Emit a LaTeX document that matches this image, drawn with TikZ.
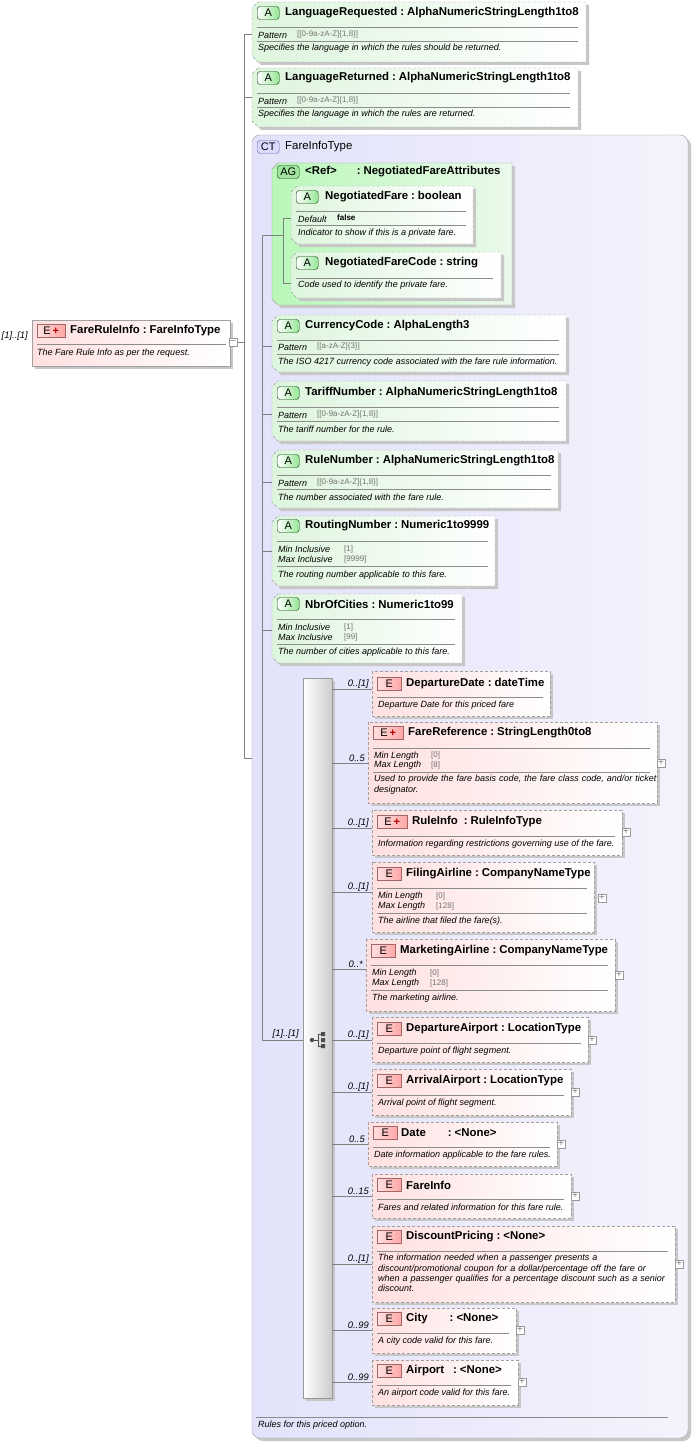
\documentclass[tikz,border=0pt]{standalone}
\usepackage{fontspec}
\setmainfont{Liberation Sans}
\usetikzlibrary{calc}
\definecolor{agr}{HTML}{DDF5DD}
\definecolor{epk}{HTML}{FFE0E0}
\definecolor{ctb}{HTML}{E2E2FA}
\definecolor{bord}{HTML}{A0A0A0}
\newcommand\ft{\fontsize{11.4}{13}\selectfont\bfseries}
\newcommand\fd{\fontsize{9}{10.4}\selectfont\itshape\hyphenpenalty=10000\exhyphenpenalty=10000}
\newcommand\fv{\fontsize{8}{9}\selectfont\color{black!55}}
\newcommand\fm{\fontsize{9.4}{10}\selectfont\itshape}
\newcommand\cl{\hspace{3pt}:\hspace{3pt}}
\tikzset{
 shad/.style={fill=black!22},
 dbox/.style={draw=bord,dashed,dash pattern=on 3pt off 2pt},
 sbox/.style={draw=bord},
 sep/.style={draw=black!45,line width=0.5pt},
 conn/.style={draw=black!50,line width=0.5pt},
 tl/.style={anchor=west,font=\ft,inner sep=0},
 dl/.style={anchor=north west,font=\fd,inner sep=0,align=left,text width=#1},
 dl/.default=300pt,
 rl/.style={anchor=west,font=\fd,inner sep=0},
 vl/.style={anchor=west,font=\fv,inner sep=0},
 ml/.style={anchor=east,font=\fm,inner sep=0},
 pl/.style={draw=black!40,fill=white,minimum size=8pt,inner sep=0,font=\fontsize{10}{10}\selectfont\color{black!50}},
 bfont/.style={font=\fontsize{11}{11}\selectfont},
}
\newcommand\abox[5]{%
 \fill[shad] (#2+9,#3+3)--(#4+3,#3+3)--(#4+3,#5+3)--(#2+9,#5+3)--(#2+3,#5-3)--(#2+3,#3+9)--cycle;
 \path[dbox,left color=agr,right color=white] (#2+6,#3)--(#4,#3)--(#4,#5)--(#2+6,#5)--(#2,#5-6)--(#2,#3+6)--cycle;
 \coordinate (#1) at (#2,#3);}
\newcommand\ebox[6][dbox]{%
 \fill[shad] (#3+3,#4+3) rectangle (#5+3,#6+3);
 \path[#1,left color=epk,right color=white] (#3,#4) rectangle (#5,#6);
 \coordinate (#2) at (#3,#4);}
\newcommand\bdg[4]{%
 \ifx a#4
  \node[anchor=west,draw=black!60!green!60!black,left color=white,right color=green!35!white!90!black,rounded corners=3pt,minimum width=22pt,minimum height=13pt,inner sep=0,bfont] at (#1,#2) {#3};
 \else
  \node[anchor=west,draw=red!40!black!60,left color=red!12,right color=red!35,minimum width=#4,minimum height=13pt,inner sep=0,bfont] at (#1,#2) {#3};
 \fi}
\newcommand\Ep{E\,{\color{red!70!black}\bfseries+}}
\begin{document}
\begin{tikzpicture}[x=1pt,y=-1pt]
\useasboundingbox (0,0) rectangle (692,1442);
\fill[white] (0,0) rectangle (692,1442);

\draw[conn] (238,342)--(244,342);
\draw[conn] (252,34)--(244,34)--(244,758)--(252,758);
\draw[conn] (244,97)--(252,97);

\ebox[sbox]{fri}{32}{320}{230}{366}
\bdg{37}{331}{\Ep}{28pt}
\node[tl] at (70,331) {FareRuleInfo\cl FareInfoType};
\draw[sep] (37,344)--(226,344);
\node[rl] at (37,353) {The Fare Rule Info as per the request.};
\node[ml] at (28,336) {[1]..[1]};
\node[pl] (mn) at (233,342) {--};

\abox{lr}{252}{2}{586}{62}
\bdg{257}{13}{A}{a}
\node[tl] at (285,13) {LanguageRequested\cl AlphaNumericStringLength1to8};
\draw[sep] (257,27)--(578,27);
\node[rl] at (258,35) {Pattern}; \node[vl] at (297,34) {[[0-9a-zA-Z]\{1,8\}]};
\draw[sep] (257,41)--(578,41);
\node[rl] at (258,48) {Specifies the language in which the rules should be returned.};

\abox{lrt}{252}{68}{578}{127}
\bdg{257}{78}{A}{a}
\node[tl] at (285,78) {LanguageReturned\cl AlphaNumericStringLength1to8};
\draw[sep] (257,93)--(570,93);
\node[rl] at (258,101) {Pattern}; \node[vl] at (297,100) {[[0-9a-zA-Z]\{1,8\}]};
\draw[sep] (257,107)--(570,107);
\node[rl] at (258,114) {Specifies the language in which the rules are returned.};

\fill[shad,rounded corners=8pt] (255,138) rectangle (691,1441);
\path[draw=bord,left color=ctb,right color=ctb!40!white,rounded corners=8pt] (252,135) rectangle (688,1438);
\coordinate (ct) at (252,135);
\node[anchor=west,draw=blue!40!black!60,fill=blue!15,rounded corners=3pt,minimum width=22pt,minimum height=13pt,inner sep=0,bfont] at (257,147) {CT};
\node[tl,font=\fontsize{11.4}{13}\selectfont] at (285,147) {FareInfoType};
\draw[sep] (256,1417)--(668,1417);
\node[rl] at (258,1425) {Rules for this priced option.};

\draw[conn] (272,235)--(262,235)--(262,1040)--(303,1040);
\foreach \yy in {346,414,482,551,630} \draw[conn] (262,\yy)--(272,\yy);
\node[ml] at (299,1034) {[1]..[1]};

\fill[shad] (281,166)--(515,166)--(515,308)--(281,308)--(275,302)--(275,172)--cycle;
\path[draw=bord,left color=agr!80!green!90!white,right color=agr!60!white] (278,163)--(512,163)--(512,305)--(278,305)--(272,299)--(272,169)--cycle;
\coordinate (ag) at (272,163);
\node[anchor=west,draw=black!60!green!60!black,fill=green!30!white!90!black,rounded corners=3pt,minimum width=22pt,minimum height=13pt,inner sep=0,bfont] at (277,172) {AG};
\node[tl] at (305,172) {<Ref>\hspace{20pt}:\hspace{3pt}NegotiatedFareAttributes};
\draw[conn] (272,235)--(283,235);
\draw[conn] (291,218)--(283,218)--(283,283)--(291,283);

\abox{nf}{291}{186}{473}{244}
\bdg{296}{197}{A}{a}
\node[tl] at (325,197) {NegotiatedFare\cl boolean};
\draw[sep] (296,211)--(466,211);
\node[rl] at (298,219) {Default}; \node[vl,font=\fontsize{8}{9}\selectfont\bfseries] at (337,218) {false};
\draw[sep] (296,225)--(466,225);
\node[rl] at (298,233) {Indicator to show if this is a private fare.};

\abox{nfc}{291}{252}{501}{298}
\bdg{296}{263}{A}{a}
\node[tl] at (325,263) {NegotiatedFareCode\cl string};
\draw[sep] (296,278)--(493,278);
\node[rl] at (298,285) {Code used to identify the private fare.};

\abox{cc}{272}{315}{566}{372}
\bdg{277}{326}{A}{a}
\node[tl] at (305,326) {CurrencyCode\cl AlphaLength3};
\draw[sep] (277,340)--(559,340);
\node[rl] at (278,347) {Pattern}; \node[vl] at (317,346) {[[a-zA-Z]\{3\}]};
\draw[sep] (277,354)--(559,354);
\node[rl] at (278,362) {The ISO 4217 currency code associated with the fare rule information.};

\abox{tn}{272}{381}{566}{441}
\bdg{277}{393}{A}{a}
\node[tl] at (305,393) {TariffNumber\cl AlphaNumericStringLength1to8};
\draw[sep] (277,407)--(559,407);
\node[rl] at (278,415) {Pattern}; \node[vl] at (317,414) {[[0-9a-zA-Z]\{1,8\}]};
\draw[sep] (277,421)--(559,421);
\node[rl] at (278,429) {The tariff number for the rule.};

\abox{rn}{272}{450}{558}{508}
\bdg{277}{461}{A}{a}
\node[tl] at (305,461) {RuleNumber\cl AlphaNumericStringLength1to8};
\draw[sep] (277,475)--(551,475);
\node[rl] at (278,483) {Pattern}; \node[vl] at (317,482) {[[0-9a-zA-Z]\{1,8\}]};
\draw[sep] (277,489)--(551,489);
\node[rl] at (278,497) {The number associated with the fare rule.};

\abox{rtn}{272}{516}{495}{586}
\bdg{277}{526}{A}{a}
\node[tl] at (305,526) {RoutingNumber\cl Numeric1to9999};
\draw[sep] (277,541)--(488,541);
\node[rl] at (278,549) {Min Inclusive}; \node[vl] at (344,549) {[1]};
\node[rl] at (278,559) {Max Inclusive}; \node[vl] at (344,559) {[9999]};
\draw[sep] (277,566)--(488,566);
\node[rl] at (278,575) {The routing number applicable to this fare.};

\abox{noc}{272}{594}{462}{663}
\bdg{277}{604}{A}{a}
\node[tl] at (305,604) {NbrOfCities\cl Numeric1to99};
\draw[sep] (277,619)--(455,619);
\node[rl] at (278,627) {Min Inclusive}; \node[vl] at (344,627) {[1]};
\node[rl] at (278,637) {Max Inclusive}; \node[vl] at (344,637) {[99]};
\draw[sep] (277,644)--(455,644);
\node[rl] at (278,652) {The number of cities applicable to this fare.};

\fill[shad] (306,681) rectangle (335,1401);
\path[draw=black!40,left color=white,right color=black!20] (303,678) rectangle (332,1398);
\coordinate (seq) at (303,678);
\begin{scope}[shift={(318,1040)},black!70,line width=0.8pt]
 \fill (-6,0) circle (2.2pt);
 \draw (-6,0)--(0,0) (0,-6)--(0,6) (0,-6)--(3,-6) (0,6)--(3,6);
 \fill (3,-8) rectangle (7,-4) (3,-2) rectangle (7,2) (3,4) rectangle (7,8);
\end{scope}

\foreach \yy/\lb/\xx in {689/0..[1]/372,763/0..5/368,828/0..[1]/372,892/0..[1]/372,969/0..*/366,1040/0..[1]/372,1092/0..[1]/372,1144/0..5/368,1196/0..15/372,1264/0..[1]/372,1330/0..99/372,1382/0..99/372}{
 \draw[conn] (332,\yy)--(\xx,\yy);
 \node[ml] at (\xx-3,\yy-5) {\lb};}

\ebox{dd}{372}{671}{550}{716}
\bdg{377}{684}{E}{24pt}
\node[tl] at (406,684) {DepartureDate\cl dateTime};
\draw[sep] (377,697)--(543,697);
\node[rl] at (378,705) {Departure Date for this priced fare};

\ebox{fr}{368}{722}{657}{803}
\bdg{373}{733}{\Ep}{30pt}
\node[tl] at (408,733) {FareReference\cl StringLength0to8};
\draw[sep] (373,748)--(650,748);
\node[rl] at (374,756) {Min Length}; \node[vl] at (431,755) {[0]};
\node[rl] at (374,765) {Max Length}; \node[vl] at (431,765) {[8]};
\draw[sep] (373,772)--(650,772);
\node[dl=290pt] at (374,775) {Used to provide the fare basis code, the fare class code, and/or ticket designator.};
\node[pl] at (661,763) {+};

\ebox{ri}{372}{810}{622}{855}
\bdg{377}{822}{\Ep}{30pt}
\node[tl] at (412,822) {RuleInfo\hspace{6pt}:\hspace{3pt}RuleInfoType};
\draw[sep] (377,836)--(615,836);
\node[rl] at (378,844) {Information regarding restrictions governing use of the fare.};
\node[pl] at (626,832) {+};

\ebox{fa}{372}{862}{594}{932}
\bdg{377}{874}{E}{24pt}
\node[tl] at (406,874) {FilingAirline\cl CompanyNameType};
\draw[sep] (377,888)--(587,888);
\node[rl] at (378,896) {Min Length}; \node[vl] at (436,896) {[0]};
\node[rl] at (378,906) {Max Length}; \node[vl] at (436,906) {[128]};
\draw[sep] (377,913)--(587,913);
\node[rl] at (378,921) {The airline that filed the fare(s).};
\node[pl] at (602,898) {+};

\ebox{ma}{366}{939}{615}{1011}
\bdg{371}{951}{E}{24pt}
\node[tl] at (400,951) {MarketingAirline\cl CompanyNameType};
\draw[sep] (371,965)--(608,965);
\node[rl] at (372,973) {Min Length}; \node[vl] at (430,973) {[0]};
\node[rl] at (372,983) {Max Length}; \node[vl] at (430,983) {[128]};
\draw[sep] (371,990)--(608,990);
\node[rl] at (372,998) {The marketing airline.};
\node[pl] at (619,975) {+};

\ebox{da}{372}{1017}{588}{1062}
\bdg{377}{1029}{E}{24pt}
\node[tl] at (406,1029) {DepartureAirport\cl LocationType};
\draw[sep] (377,1043)--(581,1043);
\node[rl] at (378,1051) {Departure point of flight segment.};
\node[pl] at (592,1040) {+};

\ebox{aa}{372}{1069}{571}{1115}
\bdg{377}{1081}{E}{24pt}
\node[tl] at (406,1081) {ArrivalAirport\cl LocationType};
\draw[sep] (377,1095)--(564,1095);
\node[rl] at (378,1103) {Arrival point of flight segment.};
\node[pl] at (575,1092) {+};

\ebox{dt}{368}{1122}{557}{1166}
\bdg{373}{1133}{E}{24pt}
\node[tl] at (401,1133) {Date\hspace{22pt}:\hspace{3pt}<None>};
\draw[sep] (373,1147)--(550,1147);
\node[rl] at (374,1155) {Date information applicable to the fare rules.};
\node[pl] at (561,1144) {+};

\ebox{fi}{372}{1174}{571}{1218}
\bdg{377}{1185}{E}{24pt}
\node[tl] at (406,1185) {FareInfo};
\draw[sep] (377,1199)--(564,1199);
\node[rl] at (378,1207) {Fares and related information for this fare rule.};
\node[pl] at (575,1196) {+};

\ebox{dp}{372}{1226}{675}{1302}
\bdg{377}{1237}{E}{24pt}
\node[tl] at (406,1237) {DiscountPricing\cl <None>};
\draw[sep] (377,1251)--(668,1251);
\node[dl=292pt] at (378,1254) {The information needed when a passenger presents a discount/promotional coupon for a dollar/percentage off the fare or when a passenger qualifies for a percentage discount such as a senior discount.};
\node[pl] at (679,1264) {+};

\ebox{ci}{372}{1308}{516}{1353}
\bdg{377}{1319}{E}{24pt}
\node[tl] at (406,1319) {City\hspace{22pt}:\hspace{3pt}<None>};
\draw[sep] (377,1333)--(509,1333);
\node[rl] at (378,1341) {A city code valid for this fare.};
\node[pl] at (520,1330) {+};

\ebox{ap}{372}{1360}{518}{1405}
\bdg{377}{1371}{E}{24pt}
\node[tl] at (406,1371) {Airport\hspace{9pt}:\hspace{3pt}<None>};
\draw[sep] (377,1385)--(511,1385);
\node[rl] at (378,1393) {An airport code valid for this fare.};
\node[pl] at (522,1382) {+};
\end{tikzpicture}
\end{document}
